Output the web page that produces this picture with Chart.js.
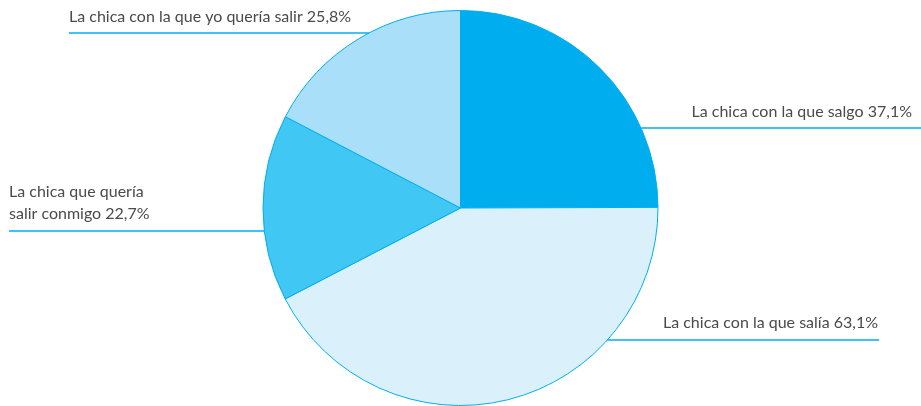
<!DOCTYPE html>
<html>
<head>
<meta charset="utf-8">
<script src="https://cdn.jsdelivr.net/npm/chart.js@4.4.1/dist/chart.umd.min.js"></script>
<style>
  html, body { margin: 0; padding: 0; background: #fff; }
  #wrap { width: 921px; height: 406px; }
</style>
</head>
<body>
<div id="wrap"><canvas id="pieChart" width="921" height="406"></canvas></div>
<script>
// Data
const labels = [
    'La chica con la que salgo',
    'La chica con la que salía',
    'La chica que quería salir conmigo',
    'La chica con la que yo quería salir'
];
const values = [37.1, 63.1, 22.7, 25.8];
const valueText = ['37,1%', '63,1%', '22,7%', '25,8%'];
const sliceColors = ['#00aeef', '#daf1fc', '#40c7f4', '#a9dff9'];

// Label layout: text lines, leader line y, outer end of the line, side
const labelLayout = [
    { lines: ['La chica con la que salgo 37,1%'], lineY: 128, outerX: 921, textX: 912, baseY: 117, side: 'right' },
    { lines: ['La chica con la que salía 63,1%'], lineY: 340, outerX: 879, textX: 878, baseY: 328, side: 'right' },
    { lines: ['La chica que quería', 'salir conmigo 22,7%'], lineY: 231, outerX: 9, textX: 9, baseY: 197, side: 'left' },
    { lines: ['La chica con la que yo quería salir 25,8%'], lineY: 33, outerX: 69, textX: 69, baseY: 22, side: 'left' }
];

// Draw labels and leader lines that end on the pie edge
const leaderLabels = {
    id: 'leaderLabels',
    afterDatasetsDraw(chart) {
        const ctx = chart.ctx;
        const arc = chart.getDatasetMeta(0).data[0];
        const cx = arc.x, cy = arc.y, r = arc.outerRadius;
        ctx.save();
        ctx.font = '16px Lato, "Open Sans", sans-serif';
        ctx.fillStyle = '#4a4a4a';
        ctx.textBaseline = 'alphabetic';
        labelLayout.forEach(function(l) {
            const dy = l.lineY - cy;
            const dx = Math.sqrt(Math.max(0, r * r - dy * dy));
            const edgeX = l.side === 'right' ? cx + dx : cx - dx;
            ctx.strokeStyle = '#00aeef';
            ctx.lineWidth = 1.5;
            ctx.beginPath();
            ctx.moveTo(edgeX, l.lineY);
            ctx.lineTo(l.outerX, l.lineY);
            ctx.stroke();
            ctx.textAlign = l.side === 'right' ? 'right' : 'left';
            l.lines.forEach(function(t, i) {
                ctx.fillText(t, l.textX, l.baseY + i * 22);
            });
        });
        ctx.restore();
    }
};

const ctx = document.getElementById('pieChart').getContext('2d');
const pieChart = new Chart(ctx, {
    type: 'pie',
    data: {
        labels: labels,
        datasets: [{
            data: values,
            backgroundColor: sliceColors,
            borderColor: '#00aeef',
            borderWidth: 1
        }]
    },
    options: {
        responsive: false,
        animation: false,
        layout: { padding: { top: 10, bottom: -2 } },
        plugins: {
            legend: { display: false },
            tooltip: { enabled: false }
        }
    },
    plugins: [leaderLabels]
});
</script>
</body>
</html>
